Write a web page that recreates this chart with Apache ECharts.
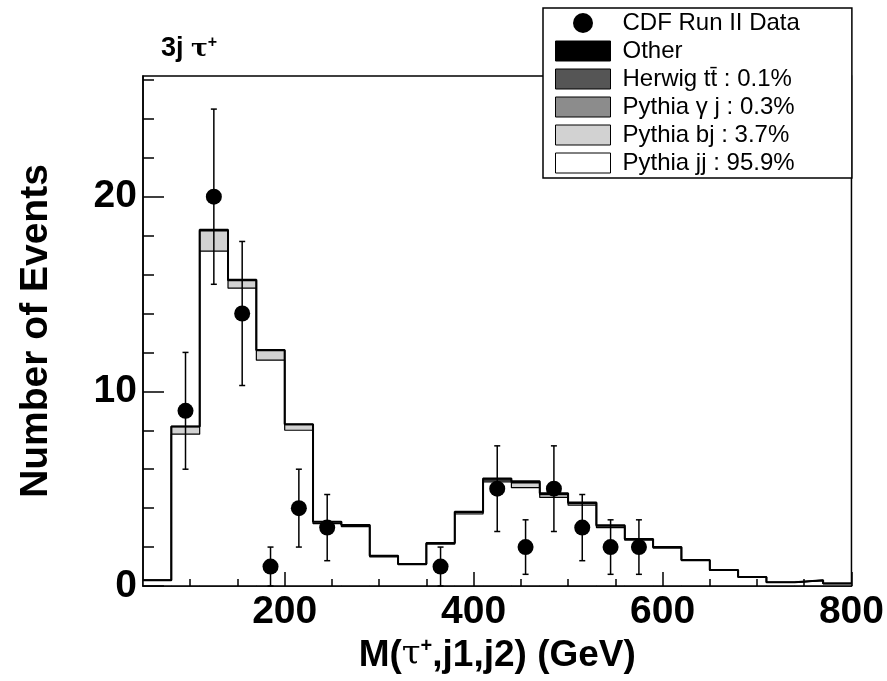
<!DOCTYPE html>
<html>
<head>
<meta charset="utf-8">
<script src="https://cdn.jsdelivr.net/npm/echarts@6/dist/echarts.min.js"></script>
<style>html,body{margin:0;padding:0;background:#fff}#c{width:887px;height:681px}</style>
</head>
<body>
<div id="c"></div>
<script>
// ---- data ----
const binLow  = [50,80,110,140,170,200,230,260,290,320,350,380,410,440,470,500,530,560,590,620,650,680,710,740,770];
const binHigh = [80,110,140,170,200,230,260,290,320,350,380,410,440,470,500,530,560,590,620,650,680,710,740,770,800];
const pythiaJJ  = [0.30,7.80,17.2,15.3,11.6,8.00,3.20,3.05,1.50,1.10,2.15,3.70,5.35,5.05,4.55,4.15,3.00,2.35,1.95,1.30,0.80,0.45,0.18,0.28,0.13];
const pythiaBJ  = [0.00,0.40,1.05,0.40,0.50,0.30,0.10,0.08,0.05,0.03,0.05,0.08,0.10,0.25,0.15,0.10,0.08,0.05,0.04,0.03,0.02,0.01,0.01,0.01,0.00];
const pythiaGJ  = [0.00,0.00,0.05,0.03,0.02,0.01,0.00,0.00,0.00,0.00,0.00,0.01,0.02,0.03,0.02,0.01,0.01,0.00,0.00,0.00,0.00,0.00,0.00,0.00,0.00];
const herwigTT  = [0.00,0.00,0.00,0.00,0.00,0.00,0.00,0.00,0.00,0.00,0.01,0.02,0.03,0.03,0.03,0.02,0.02,0.01,0.01,0.00,0.00,0.00,0.00,0.00,0.00];
const otherBkg  = [0.00,0.00,0.00,0.00,0.00,0.00,0.00,0.00,0.00,0.00,0.00,0.01,0.02,0.02,0.02,0.01,0.01,0.00,0.00,0.00,0.00,0.00,0.00,0.00,0.00];

const dataX    = [95,125,155,185,215,245,365,425,455,485,515,545,575];
const dataY    = [9,20,14,1,4,3,1,5,2,5,3,2,2];
const errLow   = [6.0,15.5,10.3,0.0,2.0,1.3,0.0,2.8,0.6,2.8,1.3,0.6,0.6];
const errHigh  = [12.0,24.5,17.7,2.0,6.0,4.7,2.0,7.2,3.4,7.2,4.7,3.4,3.4];

const xLabelTicks = [200,400,600,800];
const xMinorTicks = [100,150,250,300,350,450,500,550,650,700,750];
const yLabelTicks = [0,10,20];
const yMinorTicks = [2,4,6,8,12,14,16,18,22,24,26];

// ---- build stacked layers ----
const components = [
  {name:'Pythia jj : 95.9%', vals:pythiaJJ, color:'#ffffff'},
  {name:'Pythia bj : 3.7%', vals:pythiaBJ, color:'#d2d2d2'},
  {name:'Pythia \u03b3 j : 0.3%', vals:pythiaGJ, color:'#8c8c8c'},
  {name:'Herwig tt\u0304 : 0.1%', vals:herwigTT, color:'#555555'},
  {name:'Other', vals:otherBkg, color:'#000000'}
];
const cum = binLow.map(()=>0);
const series = [];
const tops = [];
components.forEach(c=>{
  const d = binLow.map((lo,i)=>{
    const base = cum[i]; cum[i] += c.vals[i];
    return [lo, binHigh[i], base, cum[i]];
  });
  tops.push(cum.slice());
  series.push({
    type:'custom', name:c.name, z:1, xAxisIndex:0, yAxisIndex:0,
    itemStyle:{color:c.color, borderColor:'#000', borderWidth:1},
    encode:{x:[0,1], y:[2,3]},
    renderItem:function(params, api){
      const p0 = api.coord([api.value(0), api.value(3)]);
      const p1 = api.coord([api.value(1), api.value(2)]);
      return {type:'rect', shape:{x:p0[0], y:p0[1], width:p1[0]-p0[0], height:p1[1]-p0[1]},
              style:{fill:c.color}};
    },
    data:d
  });
});
function stepLine(vals, w){
  const pts = binLow.map((lo,i)=>[lo, vals[i]]);
  pts.push([binHigh[binHigh.length-1], vals[vals.length-1]]);
  return {type:'line', step:'end', symbol:'none', silent:true, z:3,
          lineStyle:{color:'#000', width:w}, data:pts};
}
series.push(stepLine(tops[0], 1.2));
series.push(stepLine(tops[1], 1.5));
series.push(stepLine(tops[4], 2));

// error bars
series.push({
  type:'custom', z:4, silent:true,
  encode:{x:0, y:[1,2]},
  renderItem:function(params, api){
    const top = api.coord([api.value(0), api.value(2)]);
    const bot = api.coord([api.value(0), api.value(1)]);
    const s = {stroke:'#000', lineWidth:1.5};
    return {type:'group', children:[
      {type:'line', shape:{x1:top[0], y1:top[1], x2:bot[0], y2:bot[1]}, style:s},
      {type:'line', shape:{x1:top[0]-3, y1:top[1], x2:top[0]+3, y2:top[1]}, style:s},
      {type:'line', shape:{x1:bot[0]-3, y1:bot[1], x2:bot[0]+3, y2:bot[1]}, style:s}
    ]};
  },
  data:dataX.map((x,i)=>[x, errLow[i], errHigh[i]])
});
series.push({
  type:'scatter', name:'CDF Run II Data', z:5, symbol:'circle', symbolSize:16,
  itemStyle:{color:'#000', opacity:1},
  data:dataX.map((x,i)=>[x, dataY[i]])
});

const numFont = "'Liberation Sans',Arial,Helvetica,sans-serif";
const txtFont = "'Liberation Sans',Arial,Helvetica,sans-serif";
const greekFont = "'DejaVu Serif','Liberation Serif',serif";

const chart = echarts.init(document.getElementById('c'), null, {renderer:'canvas'});
chart.setOption({
  animation:false,
  backgroundColor:'#fff',
  title:{
    text:'{b|3j }{t|\u03c4}{s|+}',
    left:156, top:30,
    textStyle:{rich:{
      b:{fontFamily:txtFont, fontWeight:'bold', fontSize:27, color:'#000'},
      t:{fontFamily:greekFont, fontSize:25, color:'#000'},
      s:{fontFamily:txtFont, fontSize:16, color:'#000', verticalAlign:'top', padding:[0,0,12,0]}
    }}
  },
  legend:{
    left:543, top:8, orient:'vertical', z:10,
    backgroundColor:'#fff', borderColor:'#000', borderWidth:1.5,
    padding:[3,52,3,12], itemGap:4, itemWidth:55, itemHeight:20,
    icon:'rect',
    itemStyle:{borderColor:'#000', borderWidth:1},
    textStyle:{fontFamily:txtFont, fontSize:24, lineHeight:24, color:'#000', padding:[0,0,0,7]},
    selectedMode:false,
    data:[
      {name:'CDF Run II Data', icon:'circle', itemStyle:{borderWidth:0}},
      {name:'Other'},
      {name:'Herwig tt\u0304 : 0.1%'},
      {name:'Pythia \u03b3 j : 0.3%'},
      {name:'Pythia bj : 3.7%'},
      {name:'Pythia jj : 95.9%'}
    ]
  },
  grid:{left:143, right:34, top:76, bottom:95, show:true, borderColor:'#000', borderWidth:1.5, backgroundColor:'transparent'},
  xAxis:[{
    type:'value', min:50, max:800, z:10,
    axisLine:{show:true, lineStyle:{color:'#000', width:1.5}},
    axisTick:{show:true, inside:true, length:14, lineStyle:{color:'#000', width:1.5}, customValues:xLabelTicks},
    axisLabel:{show:true, customValues:xLabelTicks, margin:7, color:'#000', fontFamily:numFont, fontWeight:'bold', fontSize:39},
    splitLine:{show:false},
    name:'{m|M(}{t|\u03c4}{s|+}{m|,j1,j2) (GeV)}',
    nameLocation:'middle', nameGap:50,
    nameTextStyle:{rich:{
      m:{fontFamily:txtFont, fontWeight:'bold', fontSize:37, color:'#000'},
      t:{fontFamily:greekFont, fontSize:34, color:'#000'},
      s:{fontFamily:txtFont, fontWeight:'bold', fontSize:20, color:'#000', verticalAlign:'top', padding:[0,0,16,0]}
    }}
  },{
    type:'value', min:50, max:800, position:'bottom', gridIndex:0, z:10,
    axisLine:{show:false},
    axisTick:{show:true, inside:true, length:7, lineStyle:{color:'#000', width:1.5}, customValues:xMinorTicks},
    axisLabel:{show:false, customValues:xMinorTicks},
    splitLine:{show:false}
  }],
  yAxis:[{
    type:'value', min:0, max:26.2, z:10,
    axisLine:{show:true, lineStyle:{color:'#000', width:1.5}},
    axisTick:{show:true, inside:true, length:21, lineStyle:{color:'#000', width:1.5}, customValues:yLabelTicks},
    axisLabel:{show:true, customValues:yLabelTicks, margin:6, color:'#000', fontFamily:numFont, fontWeight:'bold', fontSize:39},
    splitLine:{show:false},
    name:'Number of Events', nameLocation:'middle', nameGap:87, nameRotate:90,
    nameTextStyle:{fontFamily:txtFont, fontWeight:'bold', fontSize:39, color:'#000'}
  },{
    type:'value', min:0, max:26.2, position:'left', z:10,
    axisLine:{show:false},
    axisTick:{show:true, inside:true, length:11, lineStyle:{color:'#000', width:1.5}, customValues:yMinorTicks},
    axisLabel:{show:false, customValues:yMinorTicks},
    splitLine:{show:false}
  }],
  series:series
});
</script>
</body>
</html>
